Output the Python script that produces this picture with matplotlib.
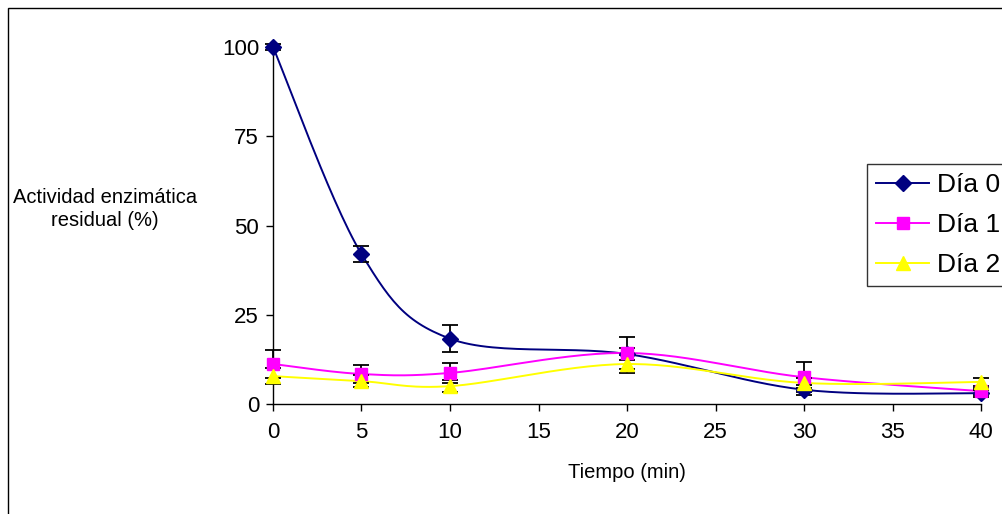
import numpy as np
import matplotlib
matplotlib.use("Agg")
import matplotlib.pyplot as plt
from matplotlib.patches import Rectangle

plt.rcParams['font.family'] = ['Liberation Sans', 'DejaVu Sans']

tiempo = [0, 5, 10, 20, 30, 40]
dia0 = [100.0, 42.0, 18.3, 14.0, 4.0, 3.0]
dia1 = [11.2, 8.4, 8.7, 14.3, 7.5, 3.6]
dia2 = [7.8, 6.4, 5.0, 11.2, 5.9, 6.2]
err0 = [0.8, 2.2, 3.7, 1.7, 1.4, 1.0]
err1 = [4.0, 2.5, 2.8, 4.5, 4.2, 1.0]
err2 = [2.2, 1.7, 1.7, 2.5, 1.5, 1.2]
series_names = ["Día 0", "Día 1", "Día 2"]
xticks = [0, 5, 10, 15, 20, 25, 30, 35, 40]
yticks = [0, 25, 50, 75, 100]

W, H = 1003, 514
fig = plt.figure(figsize=(W / 100, H / 100), dpi=100)
ax = fig.add_axes([273 / W, 1 - 404 / H, (981 - 273) / W, (404 - 47) / H])

# outer chart border
fig.patches.append(Rectangle((8 / W, -0.05), 1.1, 1 - 8 / H + 0.05, transform=fig.transFigure,
                             fill=False, edgecolor='black', linewidth=1.0))

ax_w = (981 - 273)
ax_h = (404 - 47)


def smooth(xs, ys, n=30):
    # Excel-like smoothing (Catmull-Rom in screen space)
    px = np.array(xs, float) / 40.0 * ax_w
    py = np.array(ys, float) / 100.0 * ax_h
    P = np.column_stack([px, py])
    P = np.vstack([P[0], P, P[-1]])
    out = []
    for i in range(1, len(P) - 2):
        p0, p1, p2, p3 = P[i - 1], P[i], P[i + 1], P[i + 2]
        c1 = p1 + (p2 - p0) / 6.0
        c2 = p2 - (p3 - p1) / 6.0
        t = np.linspace(0, 1, n)[:, None]
        seg = (1 - t) ** 3 * p1 + 3 * (1 - t) ** 2 * t * c1 + 3 * (1 - t) * t ** 2 * c2 + t ** 3 * p2
        out.append(seg if i == 1 else seg[1:])
    out = np.vstack(out)
    return out[:, 0] / ax_w * 40.0, out[:, 1] / ax_h * 100.0


styles = [
    (dia0, err0, '#000080', 'D', 8),
    (dia1, err1, '#FF00FF', 's', 8.5),
    (dia2, err2, '#FFFF00', '^', 10),
]

for (vals, errs, col, mk, ms), name in zip(styles, series_names):
    sx, sy = smooth(tiempo, vals)
    ax.plot(sx, sy, color=col, linewidth=1.4, zorder=2, clip_on=False)
    eb = ax.errorbar(tiempo, vals, yerr=errs, fmt='none', ecolor='black', elinewidth=1.3,
                     capsize=6, capthick=1.3, zorder=3)
    for art in eb.lines[1] + eb.lines[2]:
        art.set_clip_on(False)
    ax.plot(tiempo, vals, linestyle='none', marker=mk, markersize=ms, color=col,
            markeredgecolor=col, zorder=4, clip_on=False)

# legend handles
handles = []
for (vals, errs, col, mk, ms), name in zip(styles, series_names):
    h, = ax.plot([], [], color=col, marker=mk, markersize=ms, linewidth=1.4, label=name)
    handles.append(h)

leg = fig.legend(handles=handles, loc='upper left', bbox_to_anchor=(867 / W, 1 - 164 / H),
                 bbox_transform=fig.transFigure, frameon=True, fancybox=False, shadow=False,
                 fontsize=19, handlelength=2.0, borderpad=0.35, labelspacing=0.6,
                 handletextpad=0.3, borderaxespad=0)
leg.get_frame().set_edgecolor('black')
leg.get_frame().set_linewidth(1.0)

ax.set_xlim(0, 40)
ax.set_ylim(0, 100)
ax.set_xticks(xticks)
ax.set_yticks(yticks)
ax.tick_params(axis='both', labelsize=16, direction='out', length=5, width=1.0, colors='black')
ax.tick_params(axis='x', pad=8)
ax.tick_params(axis='y', pad=5)
for s in ['top', 'right']:
    ax.spines[s].set_visible(False)
for s in ['left', 'bottom']:
    ax.spines[s].set_linewidth(1.0)
ax.patch.set_alpha(0)

fig.text(105 / W, 1 - 209 / H, "Actividad enzimática\nresidual (%)", ha='center', va='center',
         fontsize=14.5, linespacing=1.25)
fig.text(627 / W, 1 - 472 / H, "Tiempo (min)", ha='center', va='center', fontsize=14.5)

fig.savefig("out.png", dpi=100)
